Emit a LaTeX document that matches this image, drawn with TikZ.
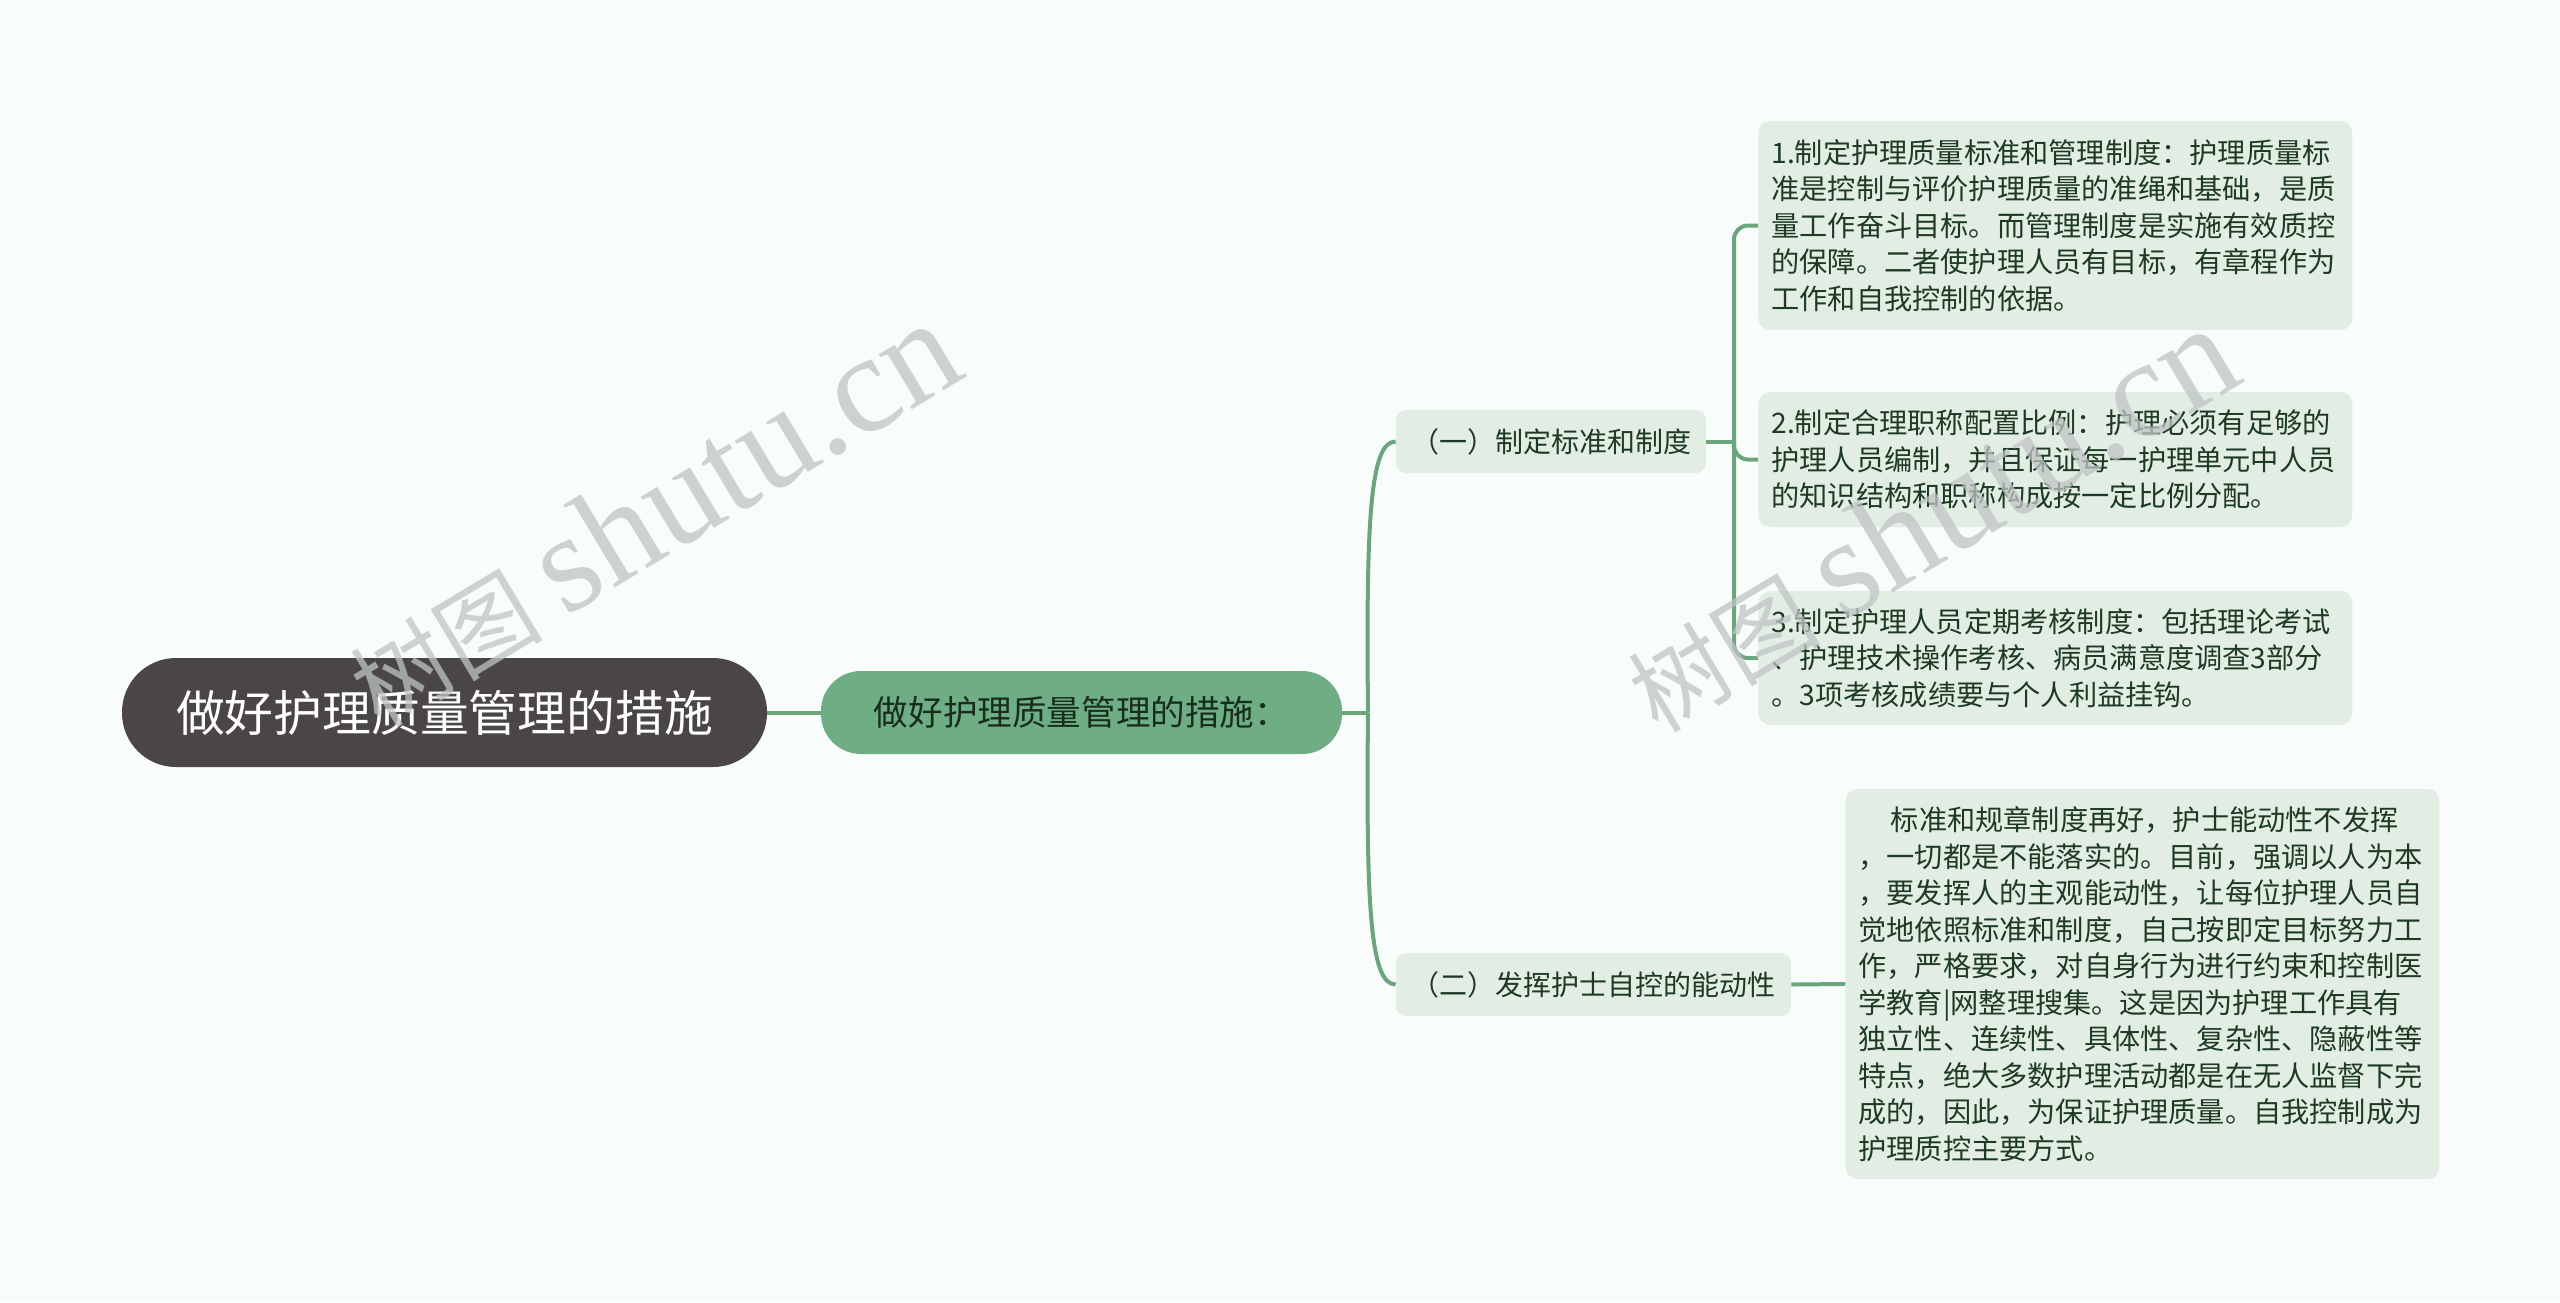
\documentclass[tikz,border=0pt]{standalone}
\usepackage{fontspec}
\setmainfont{Noto Sans CJK SC}
\newfontfamily\cjkwm{Noto Sans CJK SC}
\newfontfamily\wmlatin{Liberation Serif}
\definecolor{bgc}{RGB}{248,252,251}
\definecolor{rootc}{RGB}{75,70,70}
\definecolor{mainc}{RGB}{111,174,133}
\definecolor{leafc}{RGB}{226,237,228}
\definecolor{linec}{RGB}{106,165,125}
\definecolor{leaftext}{RGB}{30,58,36}
\definecolor{wmc}{RGB}{190,196,196}
\tikzset{
  conn/.style={draw=linec, line width=2pt},
  rootnode/.style={fill=rootc, rounded corners=27pt, minimum width=322.5pt, minimum height=54.5pt, inner sep=0pt, text=white, font=\fontsize{24.4}{28}\selectfont},
  mainnode/.style={fill=mainc, rounded corners=20pt, minimum width=260.5pt, minimum height=41.5pt, inner sep=0pt, text=leaftext!80!black, font=\fontsize{17.3}{20}\selectfont},
  subnode/.style={fill=leafc, rounded corners=5pt, minimum height=31.5pt, inner sep=0pt, text=leaftext, font=\fontsize{14}{16}\selectfont},
  leafnode/.style={fill=leafc, rounded corners=6pt, inner xsep=6.5pt, inner ysep=2pt, text width=284pt, align=left, anchor=west, text=leaftext, font=\fontsize{14.1}{18.25}\selectfont},
  wm/.style={text=wmc, opacity=0.75, inner sep=0pt}
}
\begin{document}
\begin{tikzpicture}[x={(0.5pt,0)}, y={(0,-0.5pt)}]
\fill[bgc] (0,0) rectangle (2560,1302);
\useasboundingbox (0,0) rectangle (2560,1302);

\node[rootnode] (root) at (444.5,712.5) {做好护理质量管理的措施};
\node[mainnode] (main) at (1081.5,712.5) {做好护理质量管理的措施：};
\node[subnode, minimum width=155pt] (n1) at (1551,441.5) {（一）制定标准和制度};
\node[subnode, minimum width=197.5pt] (n2) at (1593.5,984.5) {（二）发挥护士自控的能动性};

\node[leafnode, minimum height=104.5pt] (l1) at (1758,225.5) {1.制定护理质量标准和管理制度：护理质量标\\准是控制与评价护理质量的准绳和基础，是质\\量工作奋斗目标。而管理制度是实施有效质控\\的保障。二者使护理人员有目标，有章程作为\\工作和自我控制的依据。};
\node[leafnode, minimum height=67.5pt] (l2) at (1758,459.5) {2.制定合理职称配置比例：护理必须有足够的\\护理人员编制，并且保证每一护理单元中人员\\的知识结构和职称构成按一定比例分配。};
\node[leafnode, minimum height=67pt] (l3) at (1758,658) {3.制定护理人员定期考核制度：包括理论考试\\、护理技术操作考核、病员满意度调查3部分\\。3项考核成绩要与个人利益挂钩。};
\node[leafnode, minimum height=195pt] (l4) at (1845,984) {\hspace*{1.15em}标准和规章制度再好，护士能动性不发挥\\，一切都是不能落实的。目前，强调以人为本\\，要发挥人的主观能动性，让每位护理人员自\\觉地依照标准和制度，自己按即定目标努力工\\作，严格要求，对自身行为进行约束和控制医\\学教育|网整理搜集。这是因为护理工作具有\\独立性、连续性、具体性、复杂性、隐蔽性等\\特点，绝大多数护理活动都是在无人监督下完\\成的，因此，为保证护理质量。自我控制成为\\护理质控主要方式。};

\draw[conn] (root.east) -- (main.west);
\coordinate (j0) at (1368,712.5);
\draw[conn] (main.east) -- (j0);
\draw[conn] (j0) .. controls (1366,520) and (1370,441.5) .. (n1.west);
\draw[conn] (j0) .. controls (1366,905) and (1370,984.5) .. (n2.west);

\coordinate (j1) at (1734,441.5);
\draw[conn] (n1.east) -- (j1);
\draw[conn, rounded corners=7pt] (j1) |- (l1.west);
\draw[conn, rounded corners=7pt] (j1) |- (l2.west);
\draw[conn, rounded corners=7pt] (j1) |- (l3.west);
\draw[conn] (n2.east) -- (l4.west);

\node[wm, rotate=31] (wm1) at (652,514) {{\cjkwm\fontsize{48}{48}\selectfont 树图}\hspace{12pt}{\wmlatin\fontsize{70}{70}\selectfont shutu.cn}};
\node[wm, rotate=31] (wm2) at (1930,519) {{\cjkwm\fontsize{48}{48}\selectfont 树图}\hspace{12pt}{\wmlatin\fontsize{70}{70}\selectfont shutu.cn}};
\end{tikzpicture}
\end{document}
